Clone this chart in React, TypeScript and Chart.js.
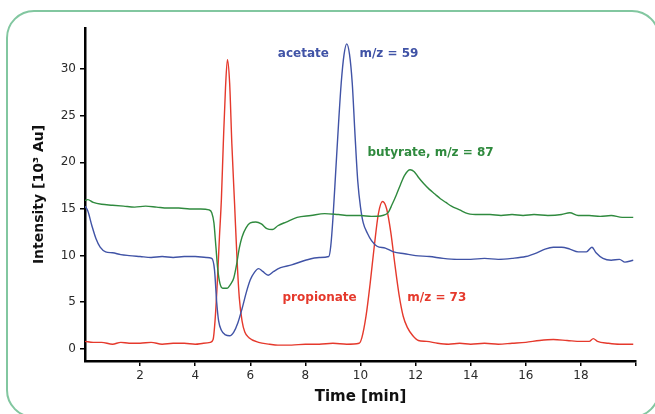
import React, { useEffect, useRef } from "react";
import { Chart, registerables } from "chart.js";

Chart.register(...registerables);

// ---- Data (time in min, intensity in 10^3 Au) ----
const acetateTime = [0, 0.1, 0.25, 0.4, 0.55, 0.75, 1.0, 1.3, 1.6, 2.0, 2.4, 2.8, 3.2, 3.6, 4.0, 4.4, 4.6, 4.7, 4.78, 4.85, 4.95, 5.1, 5.25, 5.4, 5.55, 5.7, 5.85, 6.0, 6.15, 6.3, 6.45, 6.65, 6.85, 7.1, 7.5, 8.0, 8.5, 8.85, 8.92, 9.0, 9.1, 9.2, 9.3, 9.4, 9.5, 9.6, 9.7, 9.8, 9.9, 10.0, 10.1, 10.25, 10.4, 10.6, 10.9, 11.2, 11.6, 12.0, 12.5, 13.0, 13.5, 14.0, 14.5, 15.0, 15.5, 16.0, 16.4, 16.7, 17.0, 17.3, 17.6, 17.9, 18.2, 18.4, 18.55, 18.8, 19.1, 19.4, 19.6, 19.9];
const acetateValues = [15.3, 14.8, 13.2, 11.8, 10.9, 10.4, 10.3, 10.1, 10.0, 9.9, 9.8, 9.9, 9.8, 9.9, 9.9, 9.8, 9.7, 8.5, 5.0, 3.0, 2.0, 1.5, 1.4, 1.8, 2.8, 4.3, 6.0, 7.4, 8.2, 8.6, 8.3, 7.9, 8.3, 8.7, 9.0, 9.5, 9.8, 9.9, 11, 14, 19, 24, 28.5, 31.5, 32.7, 31.6, 28.5, 23, 18, 15.2, 13.5, 12.4, 11.6, 11.0, 10.8, 10.4, 10.2, 10.0, 9.9, 9.7, 9.6, 9.6, 9.7, 9.6, 9.7, 9.9, 10.3, 10.7, 10.9, 10.9, 10.7, 10.4, 10.4, 10.9, 10.3, 9.7, 9.5, 9.6, 9.3, 9.5];

const propionateTime = [0, 0.3, 0.6, 1.0, 1.3, 1.6, 2.0, 2.4, 2.8, 3.2, 3.6, 4.0, 4.3, 4.55, 4.65, 4.72, 4.8, 4.88, 4.95, 5.02, 5.1, 5.17, 5.25, 5.33, 5.43, 5.52, 5.6, 5.7, 5.8, 5.95, 6.3, 6.7, 7.0, 7.5, 8.0, 8.5, 9.0, 9.5, 9.95, 10.05, 10.2, 10.35, 10.5, 10.65, 10.8, 10.95, 11.1, 11.25, 11.4, 11.55, 11.7, 11.9, 12.1, 12.4, 12.8, 13.2, 13.6, 14.0, 14.5, 15.0, 15.5, 16.0, 16.5, 17.0, 17.5, 18.0, 18.3, 18.45, 18.6, 19.0, 19.4, 19.9];
const propionateValues = [0.8, 0.7, 0.7, 0.5, 0.7, 0.6, 0.6, 0.7, 0.5, 0.6, 0.6, 0.5, 0.6, 0.7, 1.0, 3, 7, 12, 16, 22, 28, 31, 28.5, 22, 15.5, 9.5, 5.5, 3.0, 1.8, 1.2, 0.7, 0.5, 0.4, 0.4, 0.5, 0.5, 0.6, 0.5, 0.6, 1.2, 3.5, 7, 11, 14.5, 15.8, 15, 12.5, 9, 5.8, 3.5, 2.3, 1.4, 0.9, 0.8, 0.6, 0.5, 0.6, 0.5, 0.6, 0.5, 0.6, 0.7, 0.9, 1.0, 0.9, 0.8, 0.8, 1.1, 0.8, 0.6, 0.5, 0.5];

const butyrateTime = [0, 0.1, 0.3, 0.6, 1.0, 1.4, 1.8, 2.2, 2.6, 3.0, 3.4, 3.8, 4.2, 4.5, 4.6, 4.68, 4.75, 4.82, 4.9, 5.0, 5.15, 5.3, 5.4, 5.5, 5.6, 5.7, 5.85, 6.0, 6.2, 6.4, 6.6, 6.8, 7.0, 7.3, 7.7, 8.2, 8.7, 9.2, 9.6, 10.0, 10.4, 10.8, 11.0, 11.15, 11.3, 11.45, 11.6, 11.8, 11.95, 12.1, 12.3, 12.5, 12.7, 12.9, 13.1, 13.3, 13.6, 13.9, 14.3, 14.7, 15.1, 15.5, 15.9, 16.3, 16.8, 17.3, 17.6, 17.9, 18.3, 18.7, 19.1, 19.5, 19.9];
const butyrateValues = [15.9, 16.0, 15.7, 15.5, 15.4, 15.3, 15.2, 15.3, 15.2, 15.1, 15.1, 15.0, 15.0, 14.9, 14.6, 13.5, 11, 8.5, 7.0, 6.5, 6.5, 7.0, 7.6, 9.0, 10.8, 12.0, 13.0, 13.5, 13.6, 13.4, 12.9, 12.8, 13.2, 13.6, 14.1, 14.3, 14.5, 14.4, 14.3, 14.3, 14.2, 14.3, 14.6, 15.5, 16.5, 17.6, 18.6, 19.2, 19.0, 18.4, 17.7, 17.1, 16.6, 16.1, 15.7, 15.3, 14.9, 14.5, 14.4, 14.4, 14.3, 14.4, 14.3, 14.4, 14.3, 14.4, 14.6, 14.3, 14.3, 14.2, 14.3, 14.1, 14.1];

const xTicks = [2, 4, 6, 8, 10, 12, 14, 16, 18, 20];
const yTicks = [0, 5, 10, 15, 20, 25, 30];

const labelTexts = ["acetate", "m/z = 59", "butyrate, m/z = 87", "propionate", "m/z = 73"];
const labelX = [7.0, 9.96, 10.25, 7.17, 11.7];
const labelY = [31.6, 31.6, 21.0, 5.45, 5.45];

const BLUE = "#4053a6";
const RED = "#e5392c";
const GREEN = "#2f8a3e";
const labelColors = [BLUE, BLUE, GREEN, RED, RED];

const toPoints = (t: number[], v: number[]) => t.map((x, i) => ({ x, y: v[i] }));

const labelPlugin = {
  id: "peakLabels",
  afterDatasetsDraw(chart: any) {
    const { ctx, scales } = chart;
    ctx.save();
    ctx.font = "bold 12px 'DejaVu Sans'";
    ctx.textBaseline = "middle";
    ctx.textAlign = "left";
    labelTexts.forEach((txt, i) => {
      ctx.fillStyle = labelColors[i];
      ctx.fillText(txt, scales.x.getPixelForValue(labelX[i]), scales.y.getPixelForValue(labelY[i]));
    });
    ctx.restore();
  },
};

export default function App() {
  const ref = useRef<HTMLCanvasElement | null>(null);
  useEffect(() => {
    document.body.style.margin = "0";
    if (!ref.current) return;
    const lineDs = (label: string, t: number[], v: number[], color: string) => ({
      label,
      data: toPoints(t, v),
      borderColor: color,
      borderWidth: 1.4,
      pointRadius: 0,
      cubicInterpolationMode: "monotone" as const,
      fill: false,
    });
    const chart = new Chart(ref.current, {
      type: "line",
      data: {
        datasets: [
          lineDs("butyrate", butyrateTime, butyrateValues, GREEN),
          lineDs("acetate", acetateTime, acetateValues, BLUE),
          lineDs("propionate", propionateTime, propionateValues, RED),
        ],
      },
      options: {
        animation: false,
        responsive: false,
        parsing: false as any,
        layout: { padding: { top: 28, right: 19, left: 0, bottom: 0 } },
        plugins: { legend: { display: false }, tooltip: { enabled: false } },
        scales: {
          x: {
            type: "linear",
            min: 0,
            max: 20,
            afterBuildTicks: (s: any) => {
              s.ticks = xTicks.map((value) => ({ value }));
            },
            afterFit: (s: any) => {
              s.height = 53;
            },
            grid: { display: true, drawOnChartArea: false, drawTicks: true, tickLength: 5, color: "#000", lineWidth: 1.5 },
            border: { display: true, color: "#000", width: 2.5 },
            ticks: {
              color: "#2a2a2a",
              font: { family: "DejaVu Sans", size: 12 },
              padding: 3,
              maxRotation: 0,
              autoSkip: false,
              callback: (v: any) => (v === 20 ? "" : String(v)),
            },
            title: {
              display: true,
              text: "Time [min]",
              color: "#111",
              font: { family: "DejaVu Sans", size: 15, weight: "bold" },
              padding: { top: 0, bottom: 8 },
            },
          },
          y: {
            type: "linear",
            min: -1.3,
            max: 34.4,
            afterBuildTicks: (s: any) => {
              s.ticks = yTicks.map((value) => ({ value }));
            },
            afterFit: (s: any) => {
              s.width = 85;
            },
            grid: { display: true, drawOnChartArea: false, drawTicks: true, tickLength: 5, color: "#000", lineWidth: 1.5 },
            border: { display: true, color: "#000", width: 2.5 },
            ticks: {
              color: "#2a2a2a",
              font: { family: "DejaVu Sans", size: 12 },
              padding: 4,
              autoSkip: false,
            },
            title: {
              display: true,
              text: "Intensity [10³ Au]",
              color: "#111",
              font: { family: "DejaVu Sans", size: 14, weight: "bold" },
              padding: { top: 31, bottom: 0 },
            },
          },
        },
      },
      plugins: [labelPlugin],
    });
    return () => chart.destroy();
  }, []);

  return (
    <div style={{ position: "relative", width: 655, height: 414, overflow: "hidden", background: "#fff" }}>
      <div
        style={{
          position: "absolute",
          left: 6,
          top: 10,
          width: 654,
          height: 408,
          boxSizing: "border-box",
          border: "2px solid #82c7a0",
          borderRadius: 28,
        }}
      />
      <canvas ref={ref} width={655} height={414} style={{ position: "absolute", left: 0, top: 0 }} />
    </div>
  );
}
